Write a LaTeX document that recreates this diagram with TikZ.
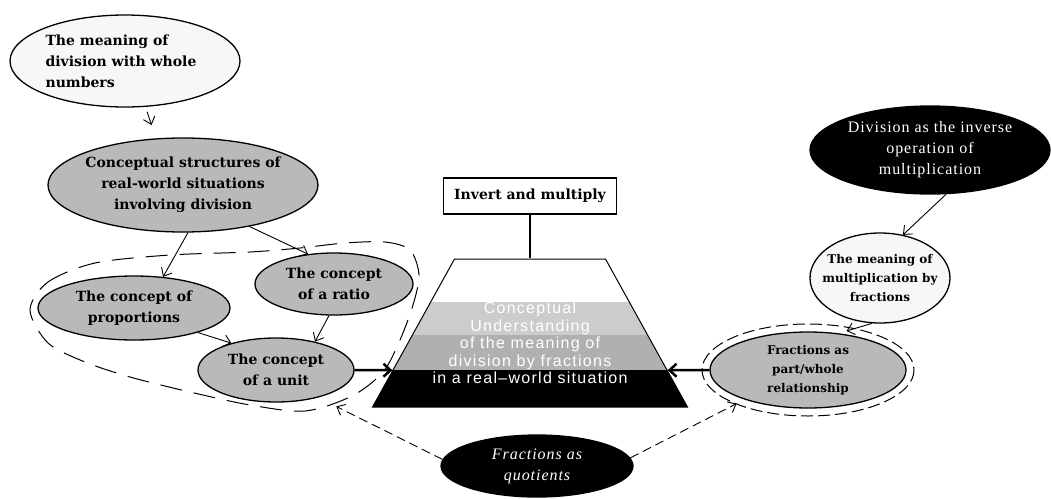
\documentclass[tikz,border=0pt]{standalone}
\usepackage{fontspec}
\usetikzlibrary{shapes.geometric,arrows.meta,calc}
\newfontfamily\bubfont{DejaVu Serif}
\newfontfamily\darkfont[LetterSpace=6]{Liberation Serif}
\newfontfamily\corefont[LetterSpace=8]{Liberation Sans}

\begin{document}
\begin{tikzpicture}[x=1pt,y=-1pt,
    bubble/.style={ellipse,draw,line width=1.3pt,inner sep=0pt},
    pale/.style={bubble,fill=gray!6},
    shaded/.style={bubble,fill=gray!55},
    dark/.style={bubble,fill=black},
    btext/.style={font=\bubfont\bfseries\fontsize{14}{21}\selectfont,align=center,inner sep=0pt},
    stext/.style={font=\bubfont\bfseries\fontsize{12}{19}\selectfont,align=center,inner sep=0pt},
    dtext/.style={text=white,font=\darkfont\fontsize{16}{21}\selectfont,align=center,inner sep=0pt},
    coretext/.style={text=white,font=\corefont\fontsize{16}{17.5}\selectfont,align=center,inner sep=0pt},
    arr/.style={-{Straight Barb[length=7pt,width=12pt]},line width=0.9pt},
    fatarr/.style={-{Straight Barb[length=7pt,width=13pt]},line width=2.5pt},
    dasharr/.style={arr,dash pattern=on 9pt off 5pt},
  ]
  \useasboundingbox (0,0) rectangle (1051,498);

  % left chain
  \node[pale,minimum width=230,minimum height=92,
    label={[btext,align=left,xshift=-4pt]center:{The meaning of\\division with whole\\numbers}}] (whole) at (125,61) {};
  \node[shaded,minimum width=270,minimum height=94,
    label={[btext]center:{Conceptual structures of\\real-world situations\\involving division}}] (concept) at (183,185) {};
  \node[shaded,minimum width=192,minimum height=64,
    label={[btext]center:{The concept of\\proportions}}] (prop) at (134,308) {};
  \node[shaded,minimum width=158,minimum height=62,
    label={[btext]center:{The concept\\of a ratio}}] (ratio) at (334,284) {};
  \node[shaded,minimum width=156,minimum height=64,
    label={[btext]center:{The concept\\of a unit}}] (unit) at (276,370) {};

  % dashed group round the three concepts
  \draw[dash pattern=on 22pt off 12pt,line width=1pt] plot[smooth cycle] coordinates {
    (30,310) (48,282) (95,263) (170,255) (250,252) (300,248) (345,243)
    (385,242) (410,250) (419,275) (413,305) (400,340) (383,372) (352,396)
    (305,411) (250,405) (190,392) (130,377) (85,362) (48,343)};

  % centre
  \node[draw,line width=1.5pt,fill=white,minimum width=173,minimum height=36,
    font=\bubfont\bfseries\fontsize{14}{21}\selectfont] (invert) at (530,196) {Invert and multiply};
  \node[trapezium,trapezium angle=61.5,trapezium stretches=true,
    minimum width=315,minimum height=148,draw,line width=1pt,inner sep=2pt,fill=white,
    path picture={
      \fill[gray!40] ([yshift=72pt]path picture bounding box.south west) rectangle ([yshift=105pt]path picture bounding box.south east);
      \fill[gray!62] ([yshift=37pt]path picture bounding box.south west) rectangle ([yshift=72pt]path picture bounding box.south east);
      \fill[black] (path picture bounding box.south west) rectangle ([yshift=37pt]path picture bounding box.south east);
    }] (core) at (530,333) {};
  \node[coretext] (coretxt) at (530,343)
    {Conceptual\\Understanding\\of the meaning of\\division by fractions\\in a real–world situation};

  % right chain
  \node[dark,minimum width=240,minimum height=88,
    label={[dtext]center:{Division as the inverse\\operation of\\multiplication}}] (inverse) at (930,150) {};
  \node[pale,minimum width=140,minimum height=90,
    label={[stext]center:{The meaning of\\multiplication by\\fractions}}] (mult) at (880,278) {};
  \node[shaded,minimum width=196,minimum height=76,
    label={[stext]center:{Fractions as\\part/whole\\relationship}}] (pw) at (808,370) {};
  \draw[dash pattern=on 12pt off 5pt,line width=1pt] (pw.center) ellipse [x radius=106,y radius=46];

  % bottom
  \node[dark,minimum width=192,minimum height=62,
    label={[dtext,font=\darkfont\itshape\fontsize{16}{21}\selectfont]center:{Fractions as\\quotients}}] (quot) at (537,466) {};

  % connectors
  \draw[arr,shorten <=5pt,shorten >=14pt] (whole.-66) -- (concept.120);
  \draw[arr] (concept.-84) -- (prop.47);
  \draw[arr] (concept.-32) -- (ratio.131);
  \draw[arr] (prop.-21) -- (unit.149);
  \draw[arr] (ratio.-99) -- (unit.36);
  \draw[line width=2.5pt] (invert.south) -- (core.north);
  \draw[fatarr] (unit.east) -- ($(core.bottom left corner)!0.25!(core.top left corner)$);
  \draw[fatarr] (pw.west) -- ($(core.bottom right corner)!0.25!(core.top right corner)$);
  \draw[arr] (inverse.-70) -- (mult.62);
  \draw[arr,shorten >=8pt] (mult.-100) -- (pw.50);
  \draw[dasharr,shorten >=20pt] (quot.176) -- (unit.-33);
  \draw[dasharr,shorten >=9pt] (quot.5) -- (pw.205);
\end{tikzpicture}
\end{document}
